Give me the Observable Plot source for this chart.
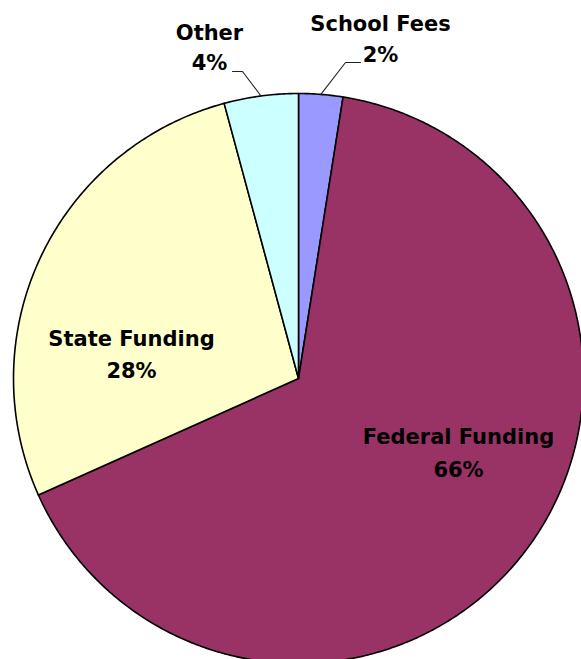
<!DOCTYPE html>
<html>
<head>
<meta charset="utf-8">
<script src="https://cdn.jsdelivr.net/npm/d3@7"></script>
<script src="https://cdn.jsdelivr.net/npm/@observablehq/plot@0.6"></script>
<style>
  html, body { margin: 0; padding: 0; background: #fff; overflow: hidden; }
  svg { display: block; }
</style>
</head>
<body>
<div id="chart"></div>
<script>
// ---- data ----
const categories = ["School Fees", "Federal Funding", "State Funding", "Other"];
const shares = [2.5, 65.8, 27.5, 4.2];
const percentLabels = ["2%", "66%", "28%", "4%"];
const colors = ["#9999ff", "#993366", "#ffffcc", "#ccffff"];

// ---- layout (kept apart from the data) ----
const W = 581, H = 659;
const R = 285;               // pie radius in data units
const cx = 298, cy = 378;    // pie centre in the page
const labelLayout = [        // label anchors, relative to the pie centre
  {x: 82,   yName: -354, yPct: -323, elbow: [47, -316],  end: [62, -316]},
  {x: 160,  yName: 59,   yPct: 92},
  {x: -167, yName: -39,  yPct: -7},
  {x: -89,  yName: -345, yPct: -315, elbow: [-56, -307], end: [-66, -307]}
];

const rows = categories.map((name, i) => ({name, share: shares[i], pct: percentLabels[i], i}));
const arcs = d3.pie().sort(null).value(d => d.share)(rows);

// slice outlines: centre + points along the arc
const slicePts = [];
for (const a of arcs) {
  slicePts.push({name: a.data.name, x: 0, y: 0});
  const n = Math.max(4, Math.ceil((a.endAngle - a.startAngle) / (Math.PI / 360)));
  for (let k = 0; k <= n; k++) {
    const t = a.startAngle + (a.endAngle - a.startAngle) * k / n;
    slicePts.push({name: a.data.name, x: R * Math.sin(t), y: -R * Math.cos(t)});
  }
}

// leader lines from the arc midpoint of the small slices
const leaderPts = [];
arcs.forEach((a, i) => {
  const L = labelLayout[i];
  if (!L.elbow) return;
  const m = (a.startAngle + a.endAngle) / 2;
  leaderPts.push({name: a.data.name, x: R * Math.sin(m), y: -R * Math.cos(m)});
  leaderPts.push({name: a.data.name, x: L.elbow[0], y: L.elbow[1]});
  leaderPts.push({name: a.data.name, x: L.end[0], y: L.end[1]});
});

const nameLabels = rows.map((r, i) => ({text: r.name, x: labelLayout[i].x, y: labelLayout[i].yName}));
const pctLabels = rows.map((r, i) => ({text: r.pct, x: labelLayout[i].x, y: labelLayout[i].yPct}));

const font = "'Century Gothic', 'URW Gothic', 'DejaVu Sans', sans-serif";

const chart = Plot.plot({
  width: W, height: H,
  margin: 0,
  x: {domain: [-cx, W - cx], range: [0, W], axis: null},
  y: {domain: [-cy, H - cy], range: [0, H], axis: null},
  color: {domain: categories, range: colors},
  style: {background: "#fff"},
  marks: [
    Plot.line(slicePts, {x: "x", y: "y", z: "name", fill: "name", stroke: "#000",
      strokeWidth: 1.6, curve: "linear-closed", strokeLinejoin: "round"}),
    Plot.line(leaderPts, {x: "x", y: "y", z: "name", stroke: "#222", strokeWidth: 1.1}),
    Plot.text(nameLabels, {x: "x", y: "y", text: "text", fontSize: 21, fontWeight: "bold",
      fontFamily: font, fill: "#000"}),
    Plot.text(pctLabels, {x: "x", y: "y", text: "text", fontSize: 21, fontWeight: "bold",
      fontFamily: font, fill: "#000"})
  ]
});
document.getElementById("chart").appendChild(chart);
</script>
</body>
</html>
